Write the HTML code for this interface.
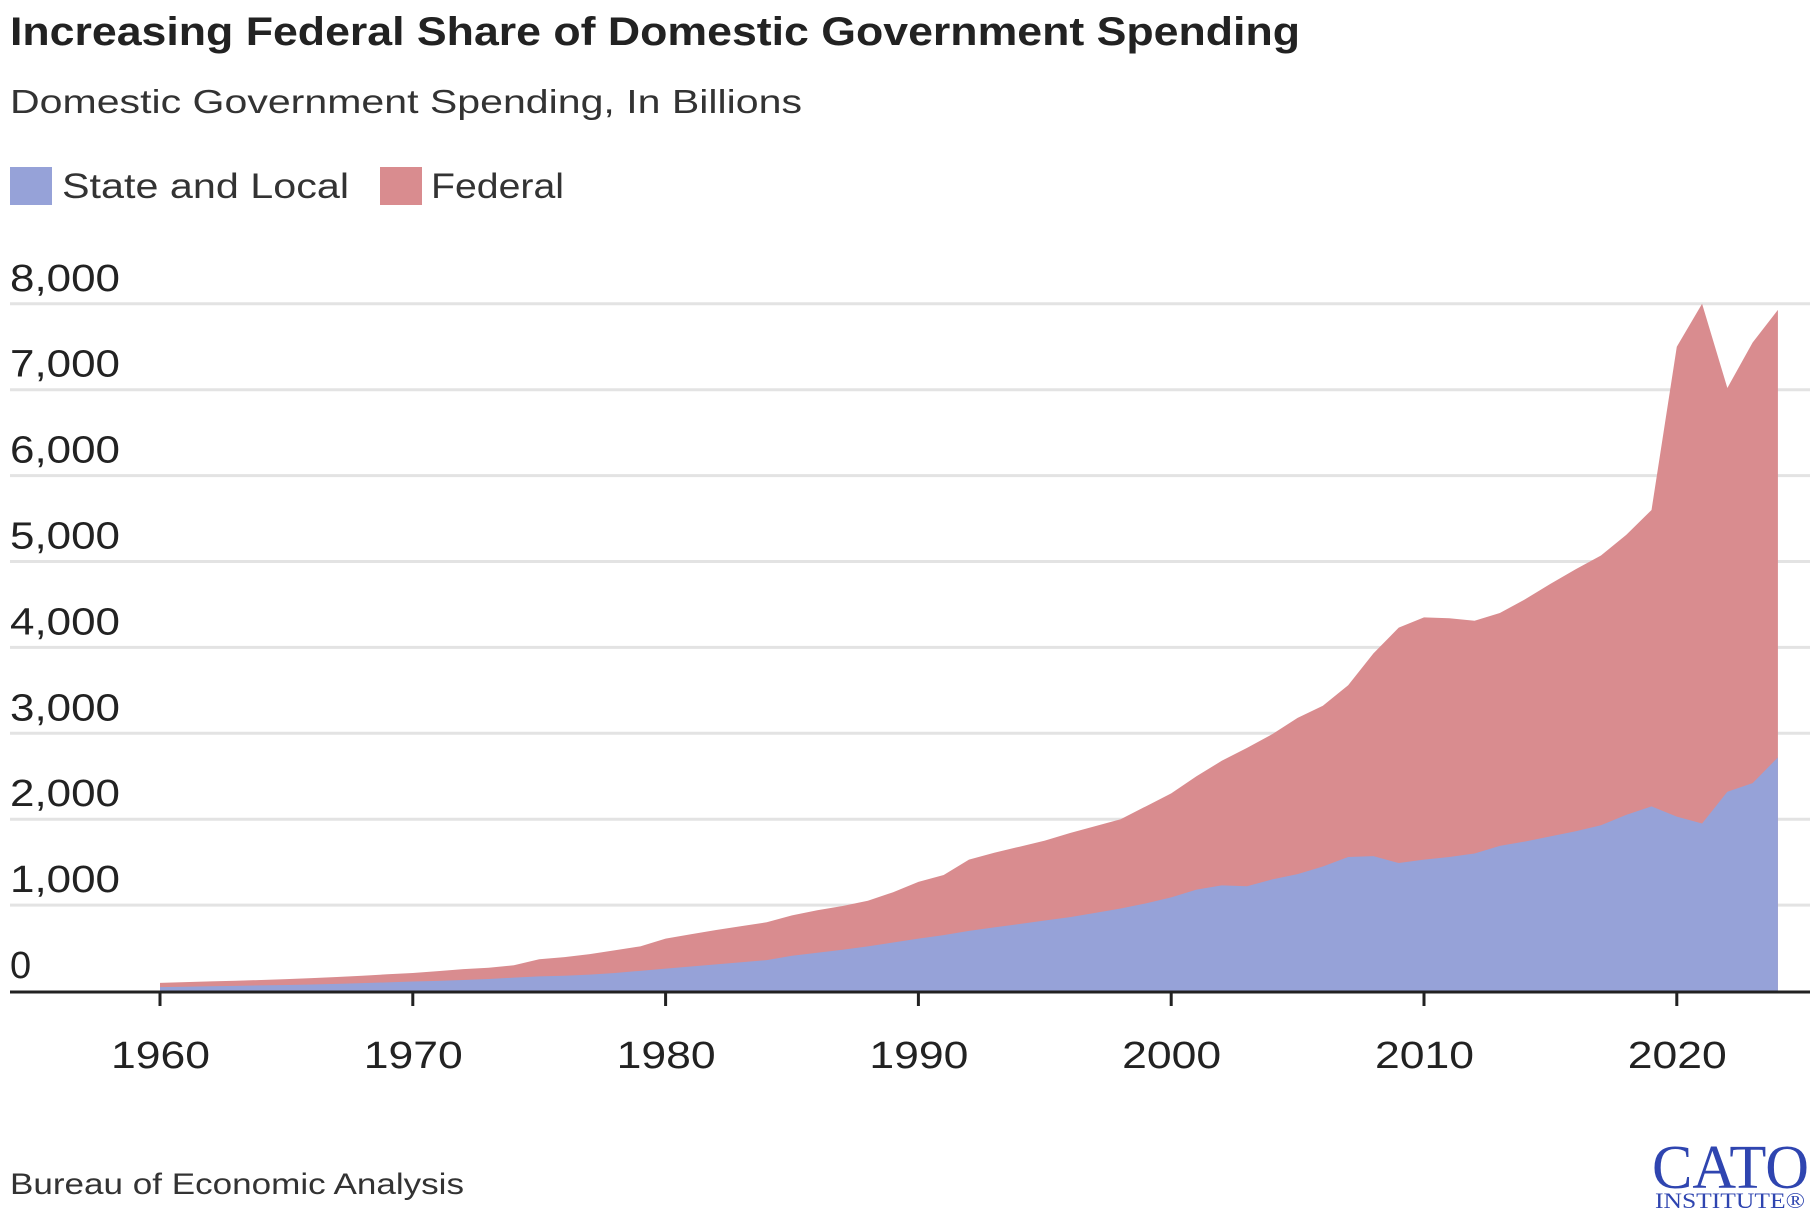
<!DOCTYPE html>
<html><head><meta charset="utf-8"><style>
html,body{margin:0;padding:0;background:#fff;}
svg{display:block;font-family:"Liberation Sans",sans-serif;}
</style></head><body>
<svg id="chart" width="1820" height="1220" viewBox="0 0 1820 1220">
<text x="10" y="45" font-size="40" font-weight="bold" fill="#222" textLength="1290" lengthAdjust="spacingAndGlyphs">Increasing Federal Share of Domestic Government Spending</text>
<text x="10" y="113" font-size="33" fill="#333" textLength="792" lengthAdjust="spacingAndGlyphs">Domestic Government Spending, In Billions</text>
<g>
<rect x="10" y="167" width="42" height="38" fill="#96a2d8"/>
<text x="62" y="198" font-size="35" fill="#333" textLength="287" lengthAdjust="spacingAndGlyphs">State and Local</text>
<rect x="380" y="167" width="42" height="38" fill="#d98c8f"/>
<text x="431" y="198" font-size="35" fill="#333" textLength="133" lengthAdjust="spacingAndGlyphs">Federal</text>
</g>
<g id="grid"></g>
<g id="areas"></g>
<g id="axis"></g>
<text x="10" y="1194" font-size="30" fill="#333" textLength="454" lengthAdjust="spacingAndGlyphs">Bureau of Economic Analysis</text>
<g>
<text x="1652" y="1188" font-family="Liberation Serif,serif" font-size="62" fill="#2f45b0" textLength="157" lengthAdjust="spacingAndGlyphs">CATO</text>
<text x="1655" y="1208" font-family="Liberation Serif,serif" font-size="22" fill="#2f45b0" textLength="150" lengthAdjust="spacingAndGlyphs">INSTITUTE®</text>
</g>
</svg>
<script>
const years=[];for(let y=1960;y<=2024;y++)years.push(y);
const totalValues=[95,103,112,120,128,138,150,163,178,195,210,232,255,270,300,370,395,430,475,520,610,660,710,755,800,880,940,990,1050,1150,1270,1350,1530,1610,1680,1750,1840,1920,2000,2150,2300,2500,2680,2830,2990,3180,3320,3560,3930,4230,4350,4340,4310,4400,4560,4740,4910,5070,5310,5600,7500,8000,7020,7550,7930];
const stateLocalValues=[45,50,55,60,65,70,76,83,92,100,110,118,128,140,155,170,178,190,210,235,260,285,310,335,360,410,445,480,520,565,610,650,700,740,780,820,860,910,960,1020,1090,1180,1230,1220,1300,1360,1450,1560,1570,1490,1530,1560,1600,1690,1740,1800,1860,1930,2050,2150,2030,1950,2320,2420,2720];
const yTicks=[0,1000,2000,3000,4000,5000,6000,7000,8000];
const xTicks=[1960,1970,1980,1990,2000,2010,2020];
const NS='http://www.w3.org/2000/svg';
const xs=y=>160+(y-1960)*25.28;
const ys=v=>991-v*0.0859;
function mk(tag,attrs,parent){const e=document.createElementNS(NS,tag);for(const k in attrs)e.setAttribute(k,attrs[k]);parent.appendChild(e);return e;}
const grid=document.getElementById('grid'),areas=document.getElementById('areas'),axis=document.getElementById('axis');
yTicks.forEach(v=>{
  if(v>0){const l=mk('line',{x1:10,x2:1810,y1:ys(v),y2:ys(v),stroke:'#e3e3e3','stroke-width':3},grid);
  
  }
  const attrs={x:10,y:ys(v)-13,'font-size':38,fill:'#222'};
  if(v>0){attrs.textLength=110;attrs.lengthAdjust='spacingAndGlyphs';}
  const t=mk('text',attrs,grid);
  t.textContent=v.toLocaleString('en-US');
  
  
});
let fed='M'+xs(years[0])+','+ys(0);
years.forEach((y,i)=>{fed+=' L'+xs(y)+','+ys(totalValues[i]);});
fed+=' L'+xs(years[years.length-1])+','+ys(0)+' Z';
const f=mk('path',{d:fed,fill:'#d98c8f'},areas);


let st='M'+xs(years[0])+','+ys(0);
years.forEach((y,i)=>{st+=' L'+xs(y)+','+ys(stateLocalValues[i]);});
st+=' L'+xs(years[years.length-1])+','+ys(0)+' Z';
const s=mk('path',{d:st,fill:'#96a2d8'},areas);


const ax=mk('line',{x1:10,x2:1810,y1:992,y2:992,stroke:'#222','stroke-width':3},axis);


xTicks.forEach(y=>{
  const tk=mk('line',{x1:xs(y),x2:xs(y),y1:992,y2:1006,stroke:'#222','stroke-width':3},axis);
  
  
  const t=mk('text',{x:xs(y)-49,y:1068,'font-size':38,fill:'#222',textLength:99,lengthAdjust:'spacingAndGlyphs'},axis);
  t.textContent=y;
  
  
});
</script>
</body></html>
